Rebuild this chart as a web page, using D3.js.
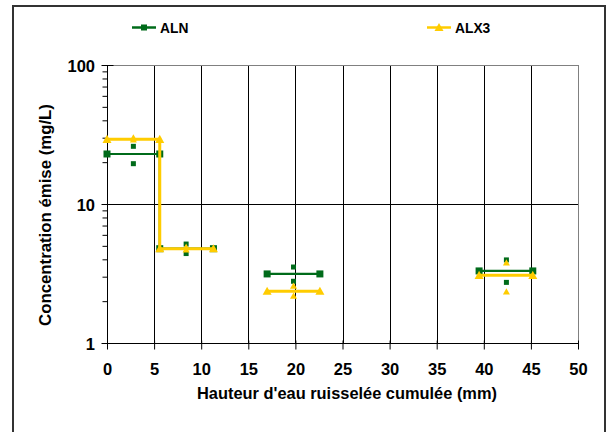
<!DOCTYPE html>
<html><head><meta charset="utf-8">
<script src="https://cdn.jsdelivr.net/npm/d3@7"></script>
<style>body{margin:0;background:#fff}svg{display:block}text{font-family:"Liberation Sans",Arial,sans-serif;font-weight:bold}</style>
</head><body><svg id="c" width="607" height="432"></svg>
<script>
// --- data ---
const seriesNames = ["ALN", "ALX3"];
const seriesColors = ["#006b1a", "#ffcc00"];
// step segments [x, y] per series (each sub-array is one connected line)
const alnSegments = [
  [[0, 22.9], [5.6, 22.9], [5.6, 4.77], [11.3, 4.77]],
  [[17, 3.14], [22.6, 3.14]],
  [[39.5, 3.3], [45.2, 3.3]]
];
const alx3Segments = [
  [[0, 29.2], [5.6, 29.2], [5.6, 4.77], [11.3, 4.77]],
  [[17, 2.36], [22.6, 2.36]],
  [[39.5, 3.07], [45.2, 3.07]]
];
// individual points (no line)
const alnPoints = [[2.8, 26], [2.8, 19.5], [8.4, 5.15], [8.4, 4.4], [19.8, 3.52], [19.8, 2.78], [42.4, 3.96], [42.4, 2.73]];
const alx3Points = [[2.8, 30.0], [2.8, 29.0], [8.4, 4.9], [8.4, 4.7], [19.8, 2.57], [19.8, 2.18], [42.4, 3.78], [42.4, 2.34]];
const xTicks = [0, 5, 10, 15, 20, 25, 30, 35, 40, 45, 50];
const yMajor = [1, 10, 100];
const xTitle = "Hauteur d'eau ruisselée cumulée (mm)";
const yTitle = "Concentration émise (mg/L)";

const FONT = "Liberation Sans, Arial, sans-serif";
const svg = d3.select("#c");
const L = 107, R = 578, T = 65, B = 343;
const x = d3.scaleLinear().domain([0, 50]).range([L, R]);
const y = d3.scaleLog().domain([1, 100]).range([B, T]);

// outer frame
svg.append("rect").attr("x", 13).attr("y", 6).attr("width", 592).attr("height", 440)
  .attr("fill", "none").attr("stroke", "#333").attr("stroke-width", 2);

// gridlines
const g = svg.append("g");
xTicks.filter(d => d > 0 && d < 50).forEach(d => {
  g.append("line").attr("x1", Math.round(x(d)) + 0.5).attr("x2", Math.round(x(d)) + 0.5)
    .attr("y1", T).attr("y2", B).attr("stroke", "#000").attr("stroke-width", 1);
});
g.append("line").attr("x1", L).attr("x2", R).attr("y1", Math.round(y(10)) + 0.5).attr("y2", Math.round(y(10)) + 0.5).attr("stroke", "#000");
// plot frame top & right (grey)
g.append("line").attr("x1", L).attr("x2", R + 0.5).attr("y1", T + 0.5).attr("y2", T + 0.5).attr("stroke", "#808080");
g.append("line").attr("x1", R + 0.5).attr("x2", R + 0.5).attr("y1", T).attr("y2", B).attr("stroke", "#808080");

// x axis
const xAxis = d3.axisBottom(x).tickValues(xTicks).tickSize(6).tickPadding(14).tickFormat(d3.format("d"));
const xa = svg.append("g").attr("transform", `translate(0,${B + 0.5})`).call(xAxis);
xa.select(".domain").attr("stroke", "#000").attr("d", `M${L},0H${R}`);
xa.selectAll(".tick line").attr("y1", -3).attr("stroke", "#000");
xa.selectAll("text").attr("font-size", 16.5).attr("fill", "#000").attr("font-family", FONT).attr("font-weight", "bold");

// y axis minor ticks
const minor = [];
for (let dec of [1, 10]) for (let k = 2; k <= 9; k++) minor.push(dec * k);
const yAxisMinor = d3.axisLeft(y).tickValues(minor).tickSize(5).tickFormat("");
const ya2 = svg.append("g").attr("transform", `translate(${L + 0.5},0)`).call(yAxisMinor);
ya2.select(".domain").remove();
ya2.selectAll(".tick line").attr("stroke", "#000");
const yAxis = d3.axisLeft(y).tickValues(yMajor).tickSize(6).tickPadding(6.5).tickFormat(d3.format("d"));
const ya = svg.append("g").attr("transform", `translate(${L + 0.5},0)`).call(yAxis);
ya.select(".domain").attr("stroke", "#000").attr("d", `M0,${T}V${B}`);
ya.selectAll(".tick line").attr("x1", 6).attr("stroke", "#000");
ya.selectAll("text").attr("font-size", 16.5).attr("dy", "0.42em").attr("fill", "#000").attr("font-family", FONT).attr("font-weight", "bold");

// axis titles
svg.append("text").attr("x", 347).attr("y", 399).attr("text-anchor", "middle")
  .attr("font-size", 16.4).attr("font-family", FONT).attr("font-weight", "bold").text(xTitle);
svg.append("text").attr("transform", `translate(51,215) rotate(-90)`).attr("text-anchor", "middle")
  .attr("font-size", 16.8).attr("font-family", FONT).attr("font-weight", "bold").text(yTitle);

const line = d3.line().x(d => x(d[0])).y(d => y(d[1]));
function sq(sel, c, s) {
  sel.append("rect").attr("x", d => x(d[0]) - s / 2).attr("y", d => y(d[1]) - s / 2).attr("width", s).attr("height", s).attr("fill", c);
}
function tri(sel, c, s) {
  const h = s / 2;
  sel.append("path").attr("transform", d => `translate(${x(d[0])},${y(d[1])})`)
    .attr("d", `M0,${-h}L${h},${h * 0.8}L${-h},${h * 0.8}Z`).attr("fill", c);
}
// ALN
const gA = svg.append("g");
alnSegments.forEach(s => gA.append("path").attr("d", line(s)).attr("fill", "none").attr("stroke", seriesColors[0]).attr("stroke-width", 2.2));
gA.selectAll("g.m").data(alnSegments.flat()).enter().append("g").call(s => sq(s, seriesColors[0], 7));
gA.selectAll("g.p").data(alnPoints).enter().append("g").call(s => sq(s, seriesColors[0], 5));
// ALX3
const gB = svg.append("g");
alx3Segments.forEach(s => gB.append("path").attr("d", line(s)).attr("fill", "none").attr("stroke", seriesColors[1]).attr("stroke-width", 3));
gB.selectAll("g.m").data(alx3Segments.flat()).enter().append("g").call(s => tri(s, seriesColors[1], 9));
gB.selectAll("g.p").data(alx3Points).enter().append("g").call(s => tri(s, seriesColors[1], 7));

// legend
const legX = [132, 427];
seriesNames.forEach((n, i) => {
  const lg = svg.append("g").attr("transform", `translate(${legX[i]},27.5)`);
  lg.append("line").attr("x1", 0).attr("x2", 24).attr("stroke", seriesColors[i]).attr("stroke-width", 2.5);
  if (i === 0) lg.append("rect").attr("x", 9).attr("y", -3).attr("width", 6).attr("height", 6).attr("fill", seriesColors[i]);
  else lg.append("path").attr("d", "M12,-4.5L16.5,3.5L7.5,3.5Z").attr("fill", seriesColors[i]);
  lg.append("text").attr("x", 28).attr("y", 5).attr("font-size", 13.8).attr("font-family", FONT).attr("font-weight", "bold").text(n);
});
</script></body></html>
